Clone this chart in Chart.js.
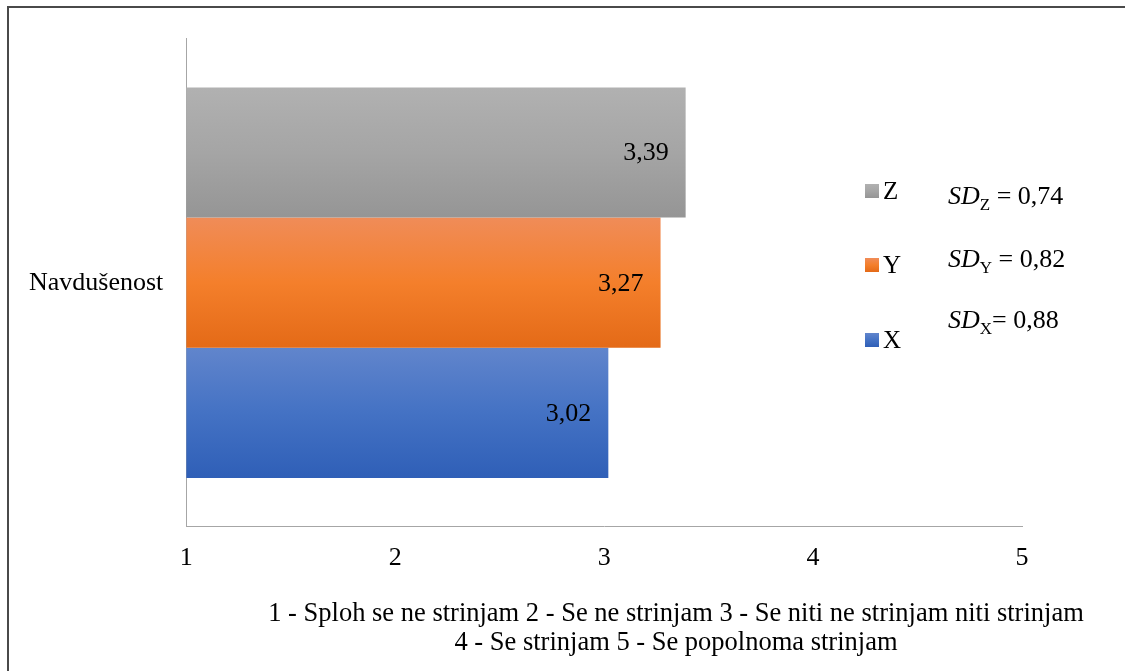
<!DOCTYPE html>
<html>
<head>
<meta charset="utf-8">
<script src="https://cdn.jsdelivr.net/npm/chart.js@4/dist/chart.umd.min.js"></script>
<style>
  html, body { margin: 0; padding: 0; background: #fff; overflow: hidden; }
  #wrap { position: relative; width: 1125px; height: 671px; }
  #frame { position: absolute; left: 7px; top: 6px; width: 1130px; height: 680px;
           border-left: 2px solid #4a4a4a; border-top: 2px solid #4a4a4a; pointer-events: none; }
  canvas { position: absolute; left: 0; top: 0; }
</style>
</head>
<body>
<div id="wrap">
  <canvas id="barChart" width="1125" height="671"></canvas>
  <div id="frame"></div>
</div>
<script>
// categories and series
var categories = ['Navdušenost'];
var seriesNames = ['Z', 'Y', 'X'];
var valuesZ = [3.39];
var valuesY = [3.27];
var valuesX = [3.02];
var sdValues = ['0,74', '0,82', '0,88'];
var tickLabels = ['1', '2', '3', '4', '5'];
var footnote = [
    '1 - Sploh se ne strinjam 2 - Se ne strinjam 3 - Se niti ne strinjam niti strinjam',
    '4 - Se strinjam 5 - Se popolnoma strinjam'
];

var serif = '"Liberation Serif", "Times New Roman", serif';

// top / middle / bottom shades for each bar
var shades = {
    Z: ['#b1b1b1', '#a5a5a5', '#959595'],
    Y: ['#f08c58', '#f47f2b', '#e46a17'],
    X: ['#6185cc', '#4472c4', '#2f5fb7']
};

function verticalGradient(ctx, top, bottom, c) {
    var g = ctx.createLinearGradient(0, top, 0, bottom);
    g.addColorStop(0, c[0]);
    g.addColorStop(0.5, c[1]);
    g.addColorStop(1, c[2]);
    return g;
}

// paint each bar with its own gradient and put the value inside the end
var barDecor = {
    id: 'barDecor',
    beforeDatasetsDraw: function (chart) {
        var ctx = chart.ctx;
        chart.data.datasets.forEach(function (ds, i) {
            chart.getDatasetMeta(i).data.forEach(function (bar) {
                var h = bar.height;
                bar.options.backgroundColor = verticalGradient(ctx, bar.y - h / 2, bar.y + h / 2, shades[ds.label]);
            });
        });
    },
    afterDatasetsDraw: function (chart) {
        var ctx = chart.ctx;
        ctx.save();
        ctx.font = '26px ' + serif;
        ctx.fillStyle = '#000';
        ctx.textAlign = 'right';
        ctx.textBaseline = 'middle';
        chart.data.datasets.forEach(function (ds, i) {
            chart.getDatasetMeta(i).data.forEach(function (bar, j) {
                var txt = ds.data[j].toFixed(2).replace('.', ',');
                ctx.fillText(txt, bar.x - 17, bar.y + 1);
            });
        });
        ctx.restore();
    }
};

// legend with the standard deviations next to it, and the scale note underneath
var sideNotes = {
    id: 'sideNotes',
    afterDraw: function (chart) {
        var ctx = chart.ctx;
        ctx.save();
        var rows = [
            { name: 'Z', boxY: 184, textY: 192, sdY: 204 },
            { name: 'Y', boxY: 258, textY: 266, sdY: 267 },
            { name: 'X', boxY: 333, textY: 341, sdY: 328 }
        ];
        rows.forEach(function (r, i) {
            ctx.fillStyle = verticalGradient(ctx, r.boxY, r.boxY + 14, shades[r.name]);
            ctx.fillRect(865, r.boxY, 14, 14);
            ctx.fillStyle = '#000';
            ctx.textAlign = 'left';
            ctx.textBaseline = 'middle';
            ctx.font = '25px ' + serif;
            ctx.fillText(seriesNames[i], 883, r.textY);

            ctx.textBaseline = 'alphabetic';
            var x = 948;
            ctx.font = 'italic 26px ' + serif;
            ctx.fillText('SD', x, r.sdY);
            x += ctx.measureText('SD').width;
            ctx.font = '17px ' + serif;
            ctx.fillText(r.name, x, r.sdY + 6);
            x += ctx.measureText(r.name).width;
            ctx.font = '26px ' + serif;
            ctx.fillText((r.name === 'X' ? '= ' : ' = ') + sdValues[i], x, r.sdY);
        });

        ctx.font = '26.5px ' + serif;
        ctx.textAlign = 'center';
        ctx.textBaseline = 'middle';
        ctx.fillText(footnote[0], 676, 614);
        ctx.fillText(footnote[1], 676, 643);
        ctx.restore();
    }
};

var ctx = document.getElementById('barChart').getContext('2d');
var chart = new Chart(ctx, {
    type: 'bar',
    data: {
        labels: categories,
        datasets: [
            { label: 'Z', data: valuesZ, backgroundColor: shades.Z[1] },
            { label: 'Y', data: valuesY, backgroundColor: shades.Y[1] },
            { label: 'X', data: valuesX, backgroundColor: shades.X[1] }
        ]
    },
    options: {
        indexAxis: 'y',
        responsive: false,
        animation: false,
        categoryPercentage: 0.8,
        barPercentage: 1.0,
        layout: { padding: { left: 6, top: 34, right: 103, bottom: 81 } },
        plugins: {
            legend: { display: false },
            tooltip: { enabled: false }
        },
        scales: {
            x: {
                min: 1,
                max: 5,
                base: 1,
                ticks: {
                    stepSize: 1,
                    padding: 16,
                    color: '#000',
                    font: { family: serif, size: 26 },
                    callback: function (v, i) { return tickLabels[i]; }
                },
                grid: { display: true, drawOnChartArea: false, drawTicks: false },
                border: { display: true, color: '#a6a6a6', width: 1 }
            },
            y: {
                ticks: {
                    padding: 23,
                    color: '#000',
                    font: { family: serif, size: 26 }
                },
                grid: { display: true, drawOnChartArea: false, drawTicks: false },
                border: { display: true, color: '#a6a6a6', width: 1 }
            }
        }
    },
    plugins: [barDecor, sideNotes]
});
</script>
</body>
</html>
